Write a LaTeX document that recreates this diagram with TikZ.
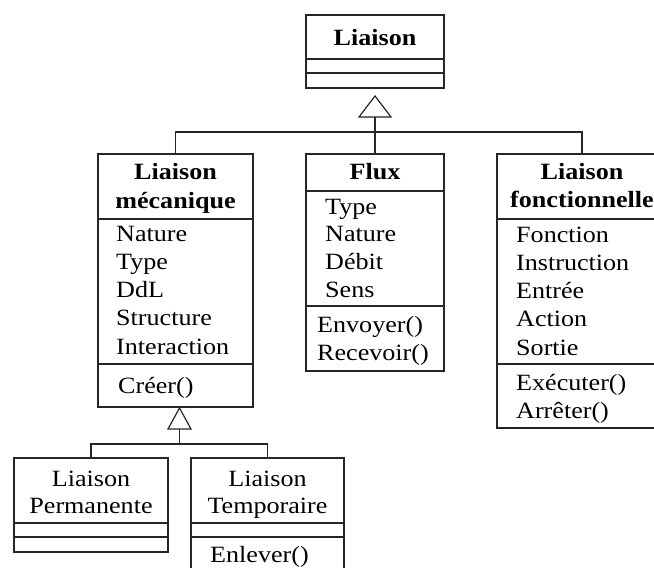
\documentclass[tikz,border=0pt]{standalone}
\usepackage{fontspec}
\setmainfont{Liberation Serif}[FakeStretch=1.12]
\begin{document}
\fontsize{23.3}{28}\selectfont
\begin{tikzpicture}[x=1pt,y=-1pt,
  box/.style={draw=black!85, line width=1.2pt, anchor=north west, inner sep=0pt, outer sep=0pt},
  hd/.style={anchor=base, inner sep=0pt, font=\bfseries},
  tx/.style={anchor=base west, inner sep=0pt},
  ctx/.style={anchor=base, inner sep=0pt},
  ln/.style={draw=black!85, line width=1.2pt},
  gen/.style={draw=black!85, fill=white, line width=1.2pt, line join=miter}]
\useasboundingbox (0,0) rectangle (654,568);
\clip (0,0) rectangle (654,568);

% boxes
\node[box, minimum width=138pt, minimum height=73pt] (L) at (306,15) {};
\node[box, minimum width=155pt, minimum height=253pt] (M) at (98,154) {};
\node[box, minimum width=138pt, minimum height=217pt] (F) at (306,154) {};
\node[box, minimum width=170pt, minimum height=274pt] (Fo) at (497,154) {};
\node[box, minimum width=154pt, minimum height=94pt] (P) at (14,458) {};
\node[box, minimum width=153pt, minimum height=130pt] (T) at (191,458) {};

% compartments
\draw[ln] (306,59) -- (444,59) (306,73) -- (444,73);
\draw[ln] (98,219) -- (253,219) (98,364) -- (253,364);
\draw[ln] (306,191) -- (444,191) (306,306) -- (444,306);
\draw[ln] (497,219) -- (667,219) (497,364) -- (667,364);
\draw[ln] (14,523) -- (168,523) (14,537) -- (168,537);
\draw[ln] (191,523) -- (344,523) (191,537) -- (344,537);

% headers
\node[hd] (Lh) at (375,45) {Liaison};
\node[hd] (Mh1) at (175.5,179) {Liaison};
\node[hd] (Mh2) at (175.5,208) {mécanique};
\node[hd] (Fh) at (375,179) {Flux};
\node[hd] (Foh1) at (582,179) {Liaison};
\node[hd] (Foh2) at (582,207) {fonctionnelle};
\node[ctx] (Ph1) at (91,486) {Liaison};
\node[ctx] (Ph2) at (91,513) {Permanente};
\node[ctx] (Th1) at (267.5,486) {Liaison};
\node[ctx] (Th2) at (267.5,513) {Temporaire};

% attributes / methods
\foreach \t [count=\i] in {Nature,Type,DdL,Structure,Interaction}
  \node[tx] (ma\i) at (116,{241+28.3*(\i-1)}) {\t};
\node[tx] (mm1) at (118,393) {Créer()};
\foreach \t [count=\i] in {Type,Nature,Débit,Sens}
  \node[tx] (fa\i) at (325,{214+27.7*(\i-1)}) {\t};
\node[tx] (fm1) at (317,332) {Envoyer()};
\node[tx] (fm2) at (317,360) {Recevoir()};
\foreach \t [count=\i] in {Fonction,Instruction,Entrée,Action,Sortie}
  \node[tx] (foa\i) at (516,{242+28.3*(\i-1)}) {\t};
\node[tx] (fom1) at (516,390) {Exécuter()};
\node[tx] (fom2) at (516,418) {Arrêter()};
\node[tx] (tm1) at (210,562) {Enlever()};

% generalisation 1
\coordinate (t1) at (375,96);
\coordinate (b1) at (375,117);
\coordinate (j1) at (375,132);
\draw[gen] (t1) -- (359,117) -- (391,117) -- cycle;
\draw[ln] (b1) -- (F.north);
\draw[ln] (M.north) |- (j1) -| (Fo.north);

% generalisation 2
\coordinate (t2) at (179.5,408);
\coordinate (b2) at (179.5,429);
\coordinate (j2) at (179.5,444);
\draw[gen] (t2) -- (168,429) -- (191,429) -- cycle;
\draw[ln] (b2) -- (j2);
\draw[ln] (P.north) |- (j2) -| (T.north);
\end{tikzpicture}
\end{document}
